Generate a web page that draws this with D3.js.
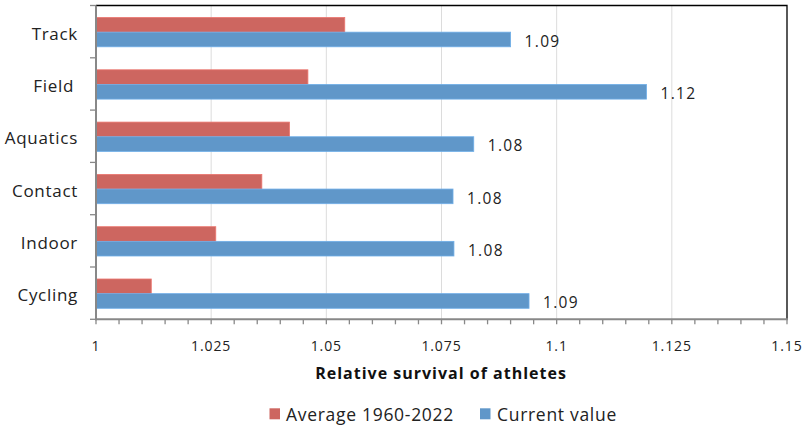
<!DOCTYPE html>
<html><head><meta charset="utf-8">
<script src="https://cdn.jsdelivr.net/npm/d3@7"></script>
<style>body{margin:0;background:#fff}svg{display:block;font-family:"Open Sans",Lato,sans-serif}</style>
</head><body><svg id="c" width="803" height="426"></svg>
<script>
const categories = ["Track","Field","Aquatics","Contact","Indoor","Cycling"];
const averageValues = [1.054, 1.046, 1.042, 1.036, 1.026, 1.012];
const currentValues = [1.090, 1.1195, 1.082, 1.0775, 1.0777, 1.094];
const xTicks = [1, 1.025, 1.05, 1.075, 1.1, 1.125, 1.15];
const xTickLabels = ["1","1.025","1.05","1.075","1.1","1.125","1.15"];
const seriesNames = ["Average 1960-2022","Current value"];
const colors = ["#CD6660","#6097C9"];

const svg = d3.select("#c");
const L=96, R=787, T=5.5, B=319.3;
const x = d3.scaleLinear().domain([1,1.15]).range([L,R]);
const y = d3.scaleBand().domain(categories).range([T,B]);
const inner = d3.scaleBand().domain([0,1]).range([0,29.3]);
const off = (y.bandwidth()-29.3)/2 + 0.5;

// gridlines
svg.append("g").selectAll("line").data(xTicks.slice(1,-1)).join("line")
  .attr("x1",d=>x(d)).attr("x2",d=>x(d)).attr("y1",T).attr("y2",B)
  .attr("stroke","#dcdcdc").attr("stroke-width",1);

// border top/right
svg.append("path").attr("d",`M${L},${T}H${R}V${B}`).attr("fill","none").attr("stroke","#000").attr("stroke-width",1.3);

// bars
const series = [averageValues,currentValues];
series.forEach((vals,si)=>{
  svg.append("g").selectAll("rect").data(categories).join("rect")
    .attr("x",x(1)).attr("y",(d)=>y(d)+off+inner(si))
    .attr("width",(d,i)=>x(vals[i])-x(1)).attr("height",inner.bandwidth())
    .attr("fill",colors[si]).attr("stroke",d3.color(colors[si]).brighter(0.4)).attr("stroke-width",0.8);
});

// labels
svg.append("g").selectAll("text").data(categories).join("text")
  .attr("x",(d,i)=>x(currentValues[i])+14).attr("y",(d)=>y(d)+off+inner(1)+inner.bandwidth()/2+7.3)
  .attr("font-size",15.5).attr("letter-spacing",1.3).attr("fill","#222")
  .text((d,i)=>d3.format(".2f")(currentValues[i]));

// x axis
const minor = d3.range(0,31).map(i=>1+i*0.005);
const xa = svg.append("g").attr("transform",`translate(0,${B})`);
xa.selectAll("line.t").data(minor).join("line").attr("class","t")
  .attr("x1",d=>x(d)).attr("x2",d=>x(d)).attr("y1",0).attr("y2",5).attr("stroke","#888").attr("stroke-width",1.3);
xa.append("line").attr("x1",L-1).attr("x2",R+1).attr("stroke","#888").attr("stroke-width",2);
xa.selectAll("text").data(xTicks).join("text")
  .attr("x",d=>x(d)).attr("y",351-B).attr("text-anchor","middle")
  .attr("font-size",14).attr("letter-spacing",0.9).attr("fill","#222").text((d,i)=>xTickLabels[i]);

// y axis
const ya = svg.append("g");
const bounds = categories.map(c=>y(c)).concat([B]);
ya.selectAll("line.t").data(bounds).join("line").attr("class","t")
  .attr("x1",L-6).attr("x2",L).attr("y1",d=>d).attr("y2",d=>d).attr("stroke","#888").attr("stroke-width",1.3);
ya.append("line").attr("x1",L).attr("x2",L).attr("y1",T).attr("y2",B+1).attr("stroke","#888").attr("stroke-width",2);
ya.selectAll("text").data(categories).join("text")
  .attr("x",d=>d==="Field"?74:78).attr("y",d=>y(d)+y.bandwidth()/2+8).attr("text-anchor","end")
  .attr("font-size",17).attr("letter-spacing",0.7).attr("fill","#222").text(d=>d);

// axis title
svg.append("text").attr("x",441).attr("y",379.3).attr("text-anchor","middle")
  .attr("font-size",16).attr("letter-spacing",1.0).attr("font-weight","bold").attr("fill","#111").text("Relative survival of athletes");

// legend
const leg = [{x:269.5,tx:286},{x:480,tx:497}];
leg.forEach((p,i)=>{
  svg.append("rect").attr("x",p.x).attr("y",408.3).attr("width",10.5).attr("height",11).attr("fill",colors[i]);
  svg.append("text").attr("x",p.tx).attr("y",421).attr("font-size",17.5).attr("letter-spacing",0.7).attr("fill","#222").text(seriesNames[i]);
});
</script></body></html>
